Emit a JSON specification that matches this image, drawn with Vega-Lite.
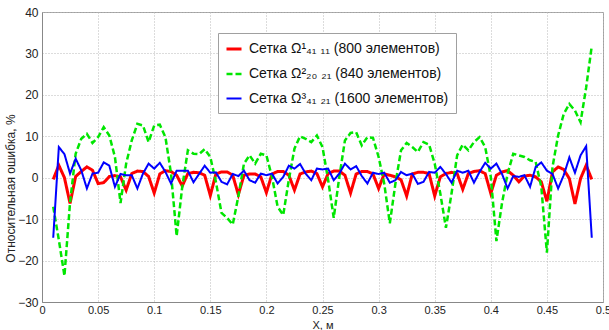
{
  "$schema": "https://vega.github.io/schema/vega-lite/v6.json",
  "autosize": {"type": "none"},
  "padding": {"left": 42, "top": 12, "right": 6, "bottom": 28},
  "width": 561,
  "height": 290,
  "background": "white",
  "config": {
    "font": "Liberation Sans",
    "view": {"stroke": "#a0a0a0", "strokeWidth": 1},
    "axis": {
      "labelFont": "Liberation Sans",
      "labelFontSize": 12,
      "labelColor": "#222",
      "titleFont": "Liberation Sans",
      "titleFontSize": 12,
      "titleFontWeight": "normal",
      "titleColor": "#222",
      "grid": true,
      "gridColor": "#b8b8b8",
      "gridDash": [1, 2],
      "gridWidth": 1,
      "domainColor": "#888",
      "ticks": false,
      "labelPadding": 4,
      "labelFlush": false,
      "labelOverlap": false
    }
  },
  "data": {
    "values": [
      {"x":0.01,"r":-0.4,"g":-7,"b":-14.5},
      {"x":0.015,"r":3,"g":-15,"b":7.4},
      {"x":0.02,"r":0,"g":-23.7,"b":5.7},
      {"x":0.025,"r":-6.2,"g":-6,"b":1},
      {"x":0.03,"r":0.3,"g":5.8,"b":4.6},
      {"x":0.035,"r":1.5,"g":9.4,"b":1.8},
      {"x":0.04,"r":2.6,"g":10.6,"b":-2.6},
      {"x":0.045,"r":1.8,"g":8.4,"b":1},
      {"x":0.05,"r":-1.4,"g":9.8,"b":1.2},
      {"x":0.055,"r":-1.2,"g":12.2,"b":3.7},
      {"x":0.06,"r":0.3,"g":10.2,"b":2.9},
      {"x":0.065,"r":0.5,"g":5,"b":-2.2},
      {"x":0.07,"r":0.2,"g":-6.1,"b":0.9},
      {"x":0.075,"r":-3,"g":3.4,"b":0.6},
      {"x":0.08,"r":1,"g":9,"b":0.6},
      {"x":0.085,"r":1.6,"g":13,"b":-2.6},
      {"x":0.09,"r":1.5,"g":12.6,"b":1},
      {"x":0.095,"r":0.3,"g":8.6,"b":3.4},
      {"x":0.1,"r":-3.7,"g":12.6,"b":2.2},
      {"x":0.105,"r":0.9,"g":12.8,"b":3.6},
      {"x":0.11,"r":1.7,"g":9.8,"b":1.4},
      {"x":0.115,"r":1.5,"g":1,"b":-1.4},
      {"x":0.12,"r":0.6,"g":-14.1,"b":1.7},
      {"x":0.125,"r":-2,"g":-2.2,"b":1.7},
      {"x":0.13,"r":1,"g":6.6,"b":1.7},
      {"x":0.135,"r":1.3,"g":5.8,"b":-1.1},
      {"x":0.14,"r":1.2,"g":5.7,"b":0.9},
      {"x":0.145,"r":0.6,"g":6.9,"b":2.9},
      {"x":0.15,"r":-4.3,"g":5,"b":1.2},
      {"x":0.155,"r":0.9,"g":-1,"b":1.3},
      {"x":0.16,"r":1.4,"g":-8.5,"b":-1},
      {"x":0.165,"r":1.4,"g":-9.7,"b":-1.6},
      {"x":0.17,"r":0.6,"g":-11.3,"b":0.9},
      {"x":0.175,"r":-4.1,"g":-4.5,"b":0.4},
      {"x":0.18,"r":0.6,"g":3.4,"b":1.7},
      {"x":0.185,"r":0.9,"g":5.4,"b":-0.6},
      {"x":0.19,"r":0.9,"g":3.4,"b":-1.2},
      {"x":0.195,"r":0.2,"g":5.8,"b":1},
      {"x":0.2,"r":-3.6,"g":5.4,"b":0.6},
      {"x":0.205,"r":0.9,"g":0.2,"b":1},
      {"x":0.21,"r":1.5,"g":-7,"b":-1.4},
      {"x":0.215,"r":1.5,"g":-9,"b":0.2},
      {"x":0.22,"r":0.6,"g":-0.5,"b":2.9},
      {"x":0.225,"r":-3,"g":7,"b":2.2},
      {"x":0.23,"r":0.9,"g":10,"b":3.3},
      {"x":0.235,"r":1.4,"g":9.4,"b":1},
      {"x":0.24,"r":1.6,"g":8.6,"b":-0.6},
      {"x":0.245,"r":1,"g":10.2,"b":2.2},
      {"x":0.25,"r":-2.2,"g":7.4,"b":2},
      {"x":0.255,"r":1,"g":-0.5,"b":2.2},
      {"x":0.26,"r":1.6,"g":-9.7,"b":-0.6},
      {"x":0.265,"r":1.6,"g":0.2,"b":1},
      {"x":0.27,"r":0.6,"g":9,"b":3.4},
      {"x":0.275,"r":-3.7,"g":10.8,"b":2},
      {"x":0.28,"r":0.9,"g":11,"b":2.8},
      {"x":0.285,"r":1.5,"g":7.8,"b":0.4},
      {"x":0.29,"r":1.5,"g":9.8,"b":-1.4},
      {"x":0.295,"r":0.9,"g":9.6,"b":1.2},
      {"x":0.3,"r":-2.6,"g":5,"b":0.9},
      {"x":0.305,"r":0.9,"g":-1.4,"b":1.2},
      {"x":0.31,"r":0.6,"g":-11,"b":-1.2},
      {"x":0.315,"r":0.2,"g":-1.4,"b":-0.6},
      {"x":0.32,"r":-0.5,"g":6.6,"b":1.4},
      {"x":0.325,"r":-4.4,"g":8.4,"b":0.6},
      {"x":0.33,"r":0.9,"g":7.4,"b":1},
      {"x":0.335,"r":1.3,"g":6.2,"b":-1.5},
      {"x":0.34,"r":1.3,"g":8.6,"b":-1},
      {"x":0.345,"r":1,"g":8,"b":1.4},
      {"x":0.35,"r":-4.4,"g":3.4,"b":1.2},
      {"x":0.355,"r":0.2,"g":-3.8,"b":2.6},
      {"x":0.36,"r":1,"g":-12.1,"b":0.9},
      {"x":0.365,"r":1.3,"g":-3.8,"b":-1.2},
      {"x":0.37,"r":1,"g":5.4,"b":1.7},
      {"x":0.375,"r":-2.8,"g":8,"b":1.2},
      {"x":0.38,"r":1,"g":6.6,"b":1.7},
      {"x":0.385,"r":1.5,"g":8.6,"b":-1.2},
      {"x":0.39,"r":1.7,"g":9.8,"b":1.4},
      {"x":0.395,"r":1,"g":7.4,"b":3.6},
      {"x":0.4,"r":-3.8,"g":0.2,"b":2.2},
      {"x":0.405,"r":0.6,"g":-15.3,"b":3.4},
      {"x":0.41,"r":1.4,"g":-6.1,"b":0.9},
      {"x":0.415,"r":1.7,"g":1,"b":-2.6},
      {"x":0.42,"r":0.6,"g":5.8,"b":0.4},
      {"x":0.425,"r":-1,"g":5.4,"b":0.2},
      {"x":0.43,"r":0.4,"g":5,"b":0.6},
      {"x":0.435,"r":0.6,"g":4.2,"b":-2.2},
      {"x":0.44,"r":0.2,"g":3.8,"b":2.6},
      {"x":0.445,"r":-1,"g":-2.2,"b":3.7},
      {"x":0.45,"r":-5.7,"g":-18.1,"b":1.7},
      {"x":0.455,"r":1.4,"g":2.6,"b":0.9},
      {"x":0.46,"r":2.6,"g":10.2,"b":-2.6},
      {"x":0.465,"r":2,"g":15.4,"b":0.6},
      {"x":0.47,"r":-0.2,"g":17.8,"b":4.9},
      {"x":0.475,"r":-6.3,"g":16.2,"b":1.2},
      {"x":0.48,"r":-0.2,"g":13.4,"b":5.4},
      {"x":0.485,"r":3,"g":21.8,"b":7.6},
      {"x":0.49,"r":-0.4,"g":31.8,"b":-14.5}
    ]
  },
  "transform": [{"fold": ["r", "g", "b"], "as": ["series", "value"]}],
  "mark": {"type": "line", "clip": true},
  "encoding": {
    "x": {
      "field": "x", "type": "quantitative",
      "scale": {"domain": [0, 0.5], "nice": false, "zero": false},
      "axis": {
        "title": "X, м",
        "titleFontSize": 11,
        "labelFontSize": 11,
        "values": [0, 0.05, 0.1, 0.15, 0.2, 0.25, 0.3, 0.35, 0.4, 0.45, 0.5],
        "format": "~g",
        "labelPadding": 2,
        "titleY": 28,
        "titleBaseline": "bottom",
        "labelBound": false
      }
    },
    "y": {
      "field": "value", "type": "quantitative",
      "scale": {"domain": [-30, 40], "nice": false},
      "axis": {
        "title": "Относительная ошибка, %",
        "values": [-30, -20, -10, 0, 10, 20, 30, 40],
        "titleX": -32,
        "titleY": 176,
        "titleBaseline": "middle",
        "titleAngle": -90
      }
    },
    "color": {
      "field": "series", "type": "nominal",
      "scale": {"domain": ["r", "g", "b"], "range": ["#ff0000", "#00e600", "#0000ff"]},
      "legend": {
        "title": null,
        "orient": "none",
        "legendX": 176,
        "legendY": 21,
        "symbolType": "stroke",
        "symbolSize": 225,
        "labelFont": "Liberation Sans",
        "labelFontSize": 14,
        "labelColor": "#111",
        "labelOffset": 6,
        "rowPadding": 9,
        "padding": 7,
        "strokeColor": "#a0a0a0",
        "fillColor": "white",
        "labelLimit": 400,
        "labelExpr": "datum.label == 'r' ? 'Сетка Ω¹₄₁ ₁₁ (800 элементов)' : datum.label == 'g' ? 'Сетка Ω²₂₀ ₂₁ (840 элементов)' : 'Сетка Ω³₄₁ ₂₁ (1600 элементов)'"
      }
    },
    "strokeDash": {
      "field": "series", "type": "nominal",
      "scale": {"domain": ["r", "g", "b"], "range": [[1, 0], [6, 3], [1, 0]]},
      "legend": null
    },
    "strokeWidth": {
      "field": "series", "type": "nominal",
      "scale": {"domain": ["r", "g", "b"], "range": [3, 2, 1.6]},
      "legend": null
    }
  }
}
